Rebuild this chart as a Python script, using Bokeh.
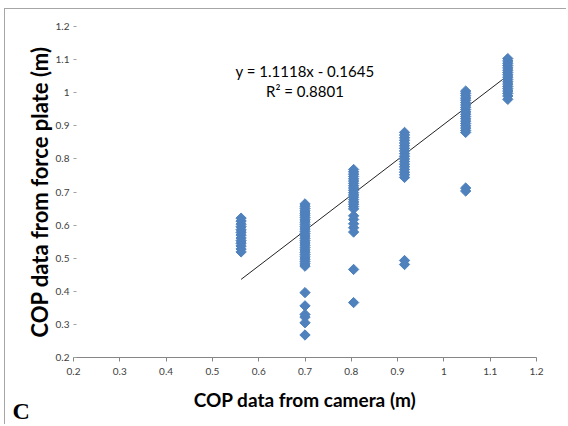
from bokeh.plotting import figure
from bokeh.models import Range1d, FixedTicker, NumeralTickFormatter, Label
from bokeh.embed import file_html
from bokeh.resources import INLINE

# ---- data ----
cam_a = 0.562
plate_a = [0.621, 0.612, 0.603, 0.595, 0.586, 0.578, 0.570, 0.561, 0.553, 0.545, 0.537, 0.528, 0.519]
cam_b = 0.700
plate_b = [0.664, 0.657, 0.650, 0.643, 0.636, 0.630, 0.623, 0.616, 0.609, 0.602, 0.595, 0.588,
           0.581, 0.574, 0.567, 0.560, 0.553, 0.546, 0.539, 0.532, 0.525, 0.518, 0.511, 0.504,
           0.497, 0.490, 0.483, 0.476, 0.396, 0.356, 0.330, 0.322, 0.305, 0.268]
cam_c = 0.805
plate_c = [0.768, 0.761, 0.754, 0.747, 0.740, 0.733, 0.726, 0.719, 0.712, 0.705, 0.698, 0.691,
           0.684, 0.677, 0.670, 0.663, 0.656, 0.649, 0.628, 0.617, 0.604, 0.592, 0.579,
           0.466, 0.366]
cam_d = 0.915
plate_d = [0.880, 0.872, 0.864, 0.856, 0.848, 0.840, 0.832, 0.824, 0.816, 0.808, 0.800, 0.792,
           0.784, 0.776, 0.768, 0.760, 0.752, 0.744, 0.493, 0.481]
cam_e = 1.047
plate_e = [1.005, 0.998, 0.991, 0.984, 0.977, 0.970, 0.963, 0.956, 0.949, 0.942, 0.935, 0.928,
           0.921, 0.914, 0.907, 0.900, 0.893, 0.886, 0.880, 0.712, 0.703]
cam_f = 1.138
plate_f = [1.103, 1.096, 1.089, 1.082, 1.075, 1.068, 1.061, 1.054, 1.047, 1.040, 1.033, 1.026,
           1.019, 1.012, 1.005, 0.998, 0.990, 0.980]

trend_x = [0.562, 1.138]
trend_y = [0.436, 1.052]

x_ticks = [0.2, 0.3, 0.4, 0.5, 0.6, 0.7, 0.8, 0.9, 1.0, 1.1, 1.2]
y_ticks = [0.2, 0.3, 0.4, 0.5, 0.6, 0.7, 0.8, 0.9, 1.0, 1.1, 1.2]

equation_text = "y = 1.1118x - 0.1645"
r2_text = "R\u00b2 = 0.8801"
x_title = "COP data from camera (m)"
y_title = "COP data from force plate (m)"
panel_letter = "C"

# ---- build ----
xs, ys = [], []
for cx, vals in [(cam_a, plate_a), (cam_b, plate_b), (cam_c, plate_c),
                 (cam_d, plate_d), (cam_e, plate_e), (cam_f, plate_f)]:
    xs.extend([cx] * len(vals))
    ys.extend(vals)

p = figure(width=562, height=416, output_backend="svg", toolbar_location=None,
           x_range=Range1d(0.2, 1.2), y_range=Range1d(0.2, 1.2),
           min_border_left=68, min_border_right=31, min_border_top=17, min_border_bottom=68)
p.styles = {"margin-left": "4px", "margin-top": "8px",
            "border-top": "1px solid #a6a6a6", "border-left": "1px solid #a6a6a6"}
p.outline_line_color = None
p.background_fill_color = "white"
p.border_fill_color = "white"
p.grid.visible = False

p.line(trend_x, trend_y, line_color="#222222", line_width=1)
p.scatter(xs, ys, marker="square", angle=0.7854, size=7.3,
          fill_color="#4F81BD", line_color="#4F81BD")

xa = p.xaxis[0]
xa.ticker = FixedTicker(ticks=x_ticks)
xa.formatter = NumeralTickFormatter(format="0.[0]")
xa.axis_line_color = "#868686"
xa.major_tick_line_color = "#868686"
xa.major_tick_out = 4
xa.major_tick_in = 0
xa.minor_tick_line_color = None
xa.major_label_text_font = "Lato"
xa.major_label_text_font_size = "10px"
xa.major_label_text_color = "#404040"
xa.major_label_standoff = 6
xa.axis_label = x_title
xa.axis_label_text_font = "Lato"
xa.axis_label_text_font_style = "bold"
xa.axis_label_text_font_size = "19px"
xa.axis_label_text_color = "black"
xa.axis_label_standoff = 10

ya = p.yaxis[0]
ya.ticker = FixedTicker(ticks=y_ticks)
ya.formatter = NumeralTickFormatter(format="0.[0]")
ya.axis_line_color = None
ya.major_tick_line_color = "#a0a0a0"
ya.major_tick_in = 3
ya.major_tick_out = 0
ya.minor_tick_line_color = None
ya.major_label_text_font = "Lato"
ya.major_label_text_font_size = "10px"
ya.major_label_text_color = "#404040"
ya.major_label_standoff = 4
ya.axis_label = y_title
ya.axis_label_text_font = "Lato"
ya.axis_label_text_font_style = "bold"
ya.axis_label_text_font_size = "22px"
ya.axis_label_text_color = "black"
ya.axis_label_standoff = 0

p.add_layout(Label(x=0.7, y=1.067, text=equation_text, text_align="center",
                   text_baseline="middle", text_font="Lato", text_font_size="15px",
                   text_color="black"))
p.add_layout(Label(x=0.7, y=1.004, text=r2_text, text_align="center",
                   text_baseline="middle", text_font="Lato", text_font_size="15px",
                   text_color="black"))
p.add_layout(Label(x=0.068, y=0.077, text=panel_letter, text_align="left",
                   text_baseline="top", text_font="Liberation Serif",
                   text_font_style="bold", text_font_size="24px", text_color="black"),
             "left")

open("out.html", "w").write(file_html(p, INLINE))
